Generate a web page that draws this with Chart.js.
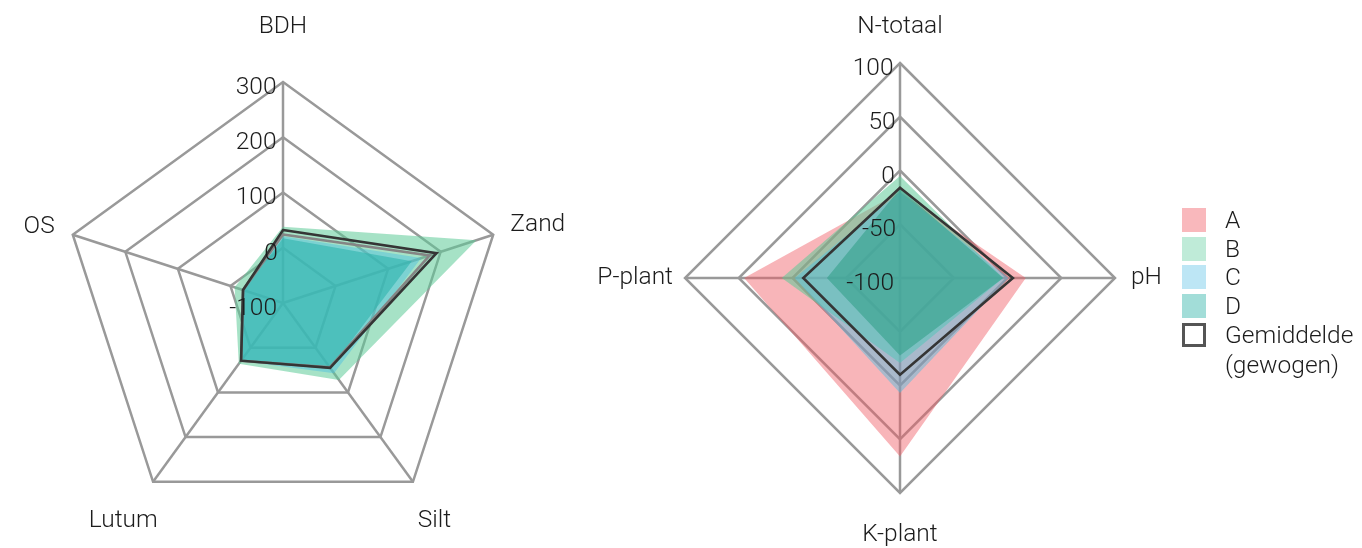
<!DOCTYPE html>
<html>
<head>
<meta charset="utf-8">
<script src="https://cdn.jsdelivr.net/npm/chart.js@4.4.1/dist/chart.umd.min.js"></script>
<style>
  html, body { margin: 0; padding: 0; background: #ffffff; }
  body { width: 1362px; height: 548px; position: relative; overflow: hidden;
         font-family: Roboto, "Liberation Sans", sans-serif; font-weight: 300; color: #1c1c1c; }
  .wrap { position: absolute; top: -100px; }
  #legend { position: absolute; left: 1182px; top: 0; width: 180px; height: 548px; }
  .row { position: absolute; left: 0; height: 30px; }
  .sw { position: absolute; left: 0; width: 24px; height: 24px; box-sizing: border-box; }
  .lab { position: absolute; left: 43px; font-size: 24.5px; line-height: 30px; white-space: nowrap; }
</style>
</head>
<body>
<div class="wrap" style="left:0px"><canvas id="soil" width="640" height="748"></canvas></div>
<div class="wrap" style="left:560px"><canvas id="nutr" width="660" height="748"></canvas></div>
<div id="legend"></div>
<script>
// ---- soil texture radar ----
const soilAxes = ['BDH', 'Zand', 'Silt', 'Lutum', 'OS'];
const soilTicks = [-100, 0, 100, 200, 300];
const soilB = [38, 268, 72, 36, -8];
const soilC = [21, 163, 57, 30, -24];
const soilD = [17, 145, 46, 29, -25];
const soilMeanWeighted = [32, 192, 45, 29, -24];
const soilMeanPlain = [24, 179, 44, 29, -24];

// ---- nutrient radar ----
const nutrAxes = ['N-totaal', 'pH', 'K-plant', 'P-plant'];
const nutrTicks = [-100, -50, 0, 50, 100];
const nutrA = [-20, 17, 66, 45];
const nutrB = [-5, -4, -21, 10];
const nutrC = [-20, 1, 7, -2];
const nutrD = [-17, -4, -28, -32];
const nutrMeanWeighted = [-16, 5, -10, -10];

// ---- legend entries ----
const groupNames = ['A', 'B', 'C', 'D'];
const meanName = ['Gemiddelde', '(gewogen)'];

// ---- styling ----
const FAMILY = 'Roboto, "Liberation Sans", sans-serif';
const WEIGHT = 300;
const TEXT = '#1c1c1c';
const GRID = '#999999';
const FS = 24.5;
const TICK_GAP = 5;
const soilFill = {
  B: 'rgba(93, 202, 151, 0.55)',
  C: 'rgba(73, 191, 226, 0.45)',
  D: 'rgba(47, 180, 173, 0.6)'
};
const nutrFill = {
  A: 'rgba(240, 90, 100, 0.45)',
  B: 'rgba(93, 202, 151, 0.55)',
  C: 'rgba(73, 191, 226, 0.45)',
  D: 'rgba(52, 160, 138, 0.6)'
};
const swatchColor = {
  A: 'rgb(249, 184, 188)',
  B: 'rgb(191, 235, 216)',
  C: 'rgb(189, 230, 245)',
  D: 'rgb(162, 221, 216)'
};
const MEAN_COLOR = '#353535';
const MEAN_PLAIN_COLOR = '#858585';

// per-label spacing/line box (spoke order)
const soilLabelPad = [40.3, 18, 8, -8, 19];
const soilLabelLH = [1.2, 0.33, 2.67, 3.73, 0.15];
const nutrLabelPad = [21.6, 16, 27, 12];
const nutrLabelLH = [1.2, 1.2, 1.2, 1.2];

const measureCtx = document.createElement('canvas').getContext('2d');
function tickLabel(value) {
  const label = String(value);
  measureCtx.font = `${WEIGHT} ${FS}px ${FAMILY}`;
  const w = measureCtx.measureText(label).width;
  const sp = measureCtx.measureText(' ').width;
  const n = Math.max(0, Math.round((w + 2 * TICK_GAP) / sp));
  // trailing blanks push the centred text to the left of the spoke
  return ['', label + ' '.repeat(n)];
}

function fillSet(name, data, colors) {
  return {
    label: name, data, fill: 'start', backgroundColor: colors[name],
    borderWidth: 0, pointRadius: 0, pointHoverRadius: 0
  };
}
function lineSet(name, data, color) {
  return {
    label: name, data, fill: false, borderColor: color, borderWidth: 2.6,
    backgroundColor: 'rgba(0,0,0,0)', pointRadius: 0, pointHoverRadius: 0
  };
}

function radarOptions(ticks, pads, lhs) {
  return {
    responsive: false,
    animation: false,
    events: [],
    layout: { padding: { left: 20, right: 20, top: 20, bottom: 20 } },
    plugins: { legend: { display: false }, tooltip: { enabled: false } },
    scales: {
      r: {
        min: ticks[0],
        max: ticks[ticks.length - 1],
        beginAtZero: false,
        grid: { color: GRID, lineWidth: 2.5 },
        angleLines: { color: GRID, lineWidth: 2.5 },
        ticks: {
          stepSize: ticks[1] - ticks[0],
          color: TEXT,
          font: { family: FAMILY, weight: WEIGHT, size: FS, lineHeight: 0.24 },
          showLabelBackdrop: false,
          backdropPadding: { top: -FS / 2, bottom: -FS / 2, left: 0, right: 0 },
          z: 1,
          callback: tickLabel
        },
        pointLabels: {
          color: TEXT,
          padding: (ctx) => pads[ctx.index],
          font: (ctx) => ({ family: FAMILY, weight: WEIGHT, size: FS, lineHeight: lhs[ctx.index] })
        }
      }
    }
  };
}

// move/resize the chart area until the radial scale sits at (cx, cy) with the given radius
function placeRadar(chart, cx, cy, radius) {
  let pad = { left: 20, right: 20, top: 20, bottom: 20 };
  for (let k = 0; k < 6; k++) {
    const s = chart.scales.r;
    const dR = radius - s.drawingArea;
    const dx = cx - s.xCenter;
    const dy = cy - s.yCenter;
    if (Math.abs(dR) < 0.5 && Math.abs(dx) < 0.5 && Math.abs(dy) < 0.5) break;
    pad = {
      left: pad.left + dx - dR, right: pad.right - dx - dR,
      top: pad.top + dy - dR, bottom: pad.bottom - dy - dR
    };
    chart.options.layout.padding = pad;
    chart.update('none');
  }
}

const soilChart = new Chart(document.getElementById('soil'), {
  type: 'radar',
  data: {
    labels: soilAxes,
    datasets: [
      lineSet('Gemiddelde (gewogen)', soilMeanWeighted, MEAN_COLOR),
      lineSet('Gemiddelde (ongewogen)', soilMeanPlain, MEAN_PLAIN_COLOR),
      fillSet('D', soilD, soilFill),
      fillSet('C', soilC, soilFill),
      fillSet('B', soilB, soilFill)
    ]
  },
  options: radarOptions(soilTicks, soilLabelPad, soilLabelLH)
});
placeRadar(soilChart, 283, 403, 221);

const nutrChart = new Chart(document.getElementById('nutr'), {
  type: 'radar',
  data: {
    labels: nutrAxes,
    datasets: [
      lineSet('Gemiddelde (gewogen)', nutrMeanWeighted, MEAN_COLOR),
      fillSet('D', nutrD, nutrFill),
      fillSet('C', nutrC, nutrFill),
      fillSet('B', nutrB, nutrFill),
      fillSet('A', nutrA, nutrFill)
    ]
  },
  options: radarOptions(nutrTicks, nutrLabelPad, nutrLabelLH)
});
placeRadar(nutrChart, 340, 378, 215);

// ---- legend ----
const legend = document.getElementById('legend');
const rowCentres = [220, 248.5, 277, 306, 335];
groupNames.forEach((g, i) => {
  const row = document.createElement('div');
  row.className = 'row';
  row.style.top = (rowCentres[i] - 15) + 'px';
  row.innerHTML = `<div class="sw" style="top:3px;background:${swatchColor[g]}"></div><div class="lab">${g}</div>`;
  legend.appendChild(row);
});
const meanRow = document.createElement('div');
meanRow.className = 'row';
meanRow.style.top = (rowCentres[4] - 15) + 'px';
meanRow.innerHTML = `<div class="sw" style="top:3px;background:#fff;border:3px solid #555"></div>` +
  `<div class="lab">${meanName[0]}<br>${meanName[1]}</div>`;
legend.appendChild(meanRow);
</script>
</body>
</html>
